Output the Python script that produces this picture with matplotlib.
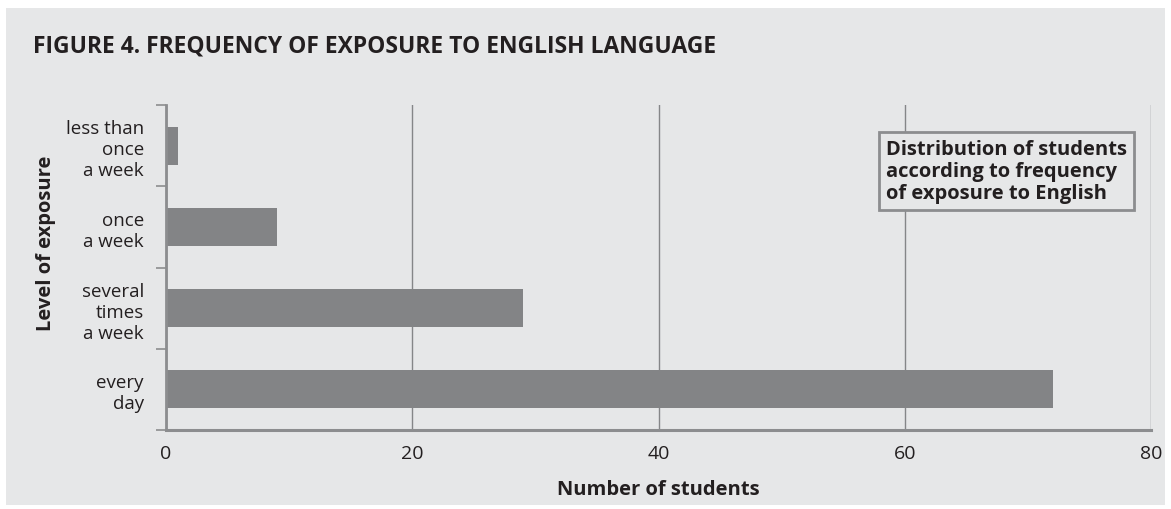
import matplotlib.pyplot as plt
import matplotlib.patches as patches

# data
categories = ["every\nday", "several\ntimes\na week", "once\na week", "less than\nonce\na week"]
students = [72, 29, 9, 1]
x_ticks = [0, 20, 40, 60, 80]

bg = "#e6e7e8"
bar_col = "#838486"
axis_col = "#8c8d8f"
txt = "#231f20"

plt.rcParams['font.family'] = ['Open Sans', 'DejaVu Sans']

fig = plt.figure(figsize=(11.71, 5.10), dpi=100)
fig.patch.set_facecolor("white")
fig.patches.append(patches.Rectangle((6/1171, 4/510), 1159/1171, 497/510,
                                     transform=fig.transFigure, facecolor=bg,
                                     edgecolor="none", zorder=-1))

ax = fig.add_axes([166/1171, 1 - 431/510, (1151-166)/1171, (431-106)/510])
ax.set_facecolor(bg)

ypos = list(range(len(categories)))
ax.barh(ypos, students, height=0.47, color=bar_col, zorder=3)

ax.set_xlim(0, 80)
ax.set_ylim(-0.5, 3.5)
ax.set_xticks(x_ticks)
ax.set_xticklabels([str(v) for v in x_ticks], fontsize=14, color=txt)
ax.set_yticks(ypos)
ax.set_yticklabels(categories, fontsize=13.5, color=txt, ha="right",
                   linespacing=1.22)
ax.tick_params(axis="y", length=0, pad=16)
ax.tick_params(axis="x", length=0, pad=10)

# category boundary ticks on the y axis
ax.set_yticks([-0.5, 0.5, 1.5, 2.5, 3.5], minor=True)
ax.tick_params(axis="y", which="minor", length=7, width=1.2, color=axis_col, direction="out")
ax.set_xticks([0, 80], minor=True)
ax.tick_params(axis="x", which="minor", length=6, width=1.2, color=axis_col, direction="out")

ax.grid(axis="x", color="#858688", linewidth=1.0, zorder=0)
for s in ["top", "right"]:
    ax.spines[s].set_visible(False)
ax.spines["left"].set_color(axis_col)
ax.spines["left"].set_linewidth(2)
ax.spines["bottom"].set_color(axis_col)
ax.spines["bottom"].set_linewidth(2.2)
ax.spines["left"].set_zorder(4)
ax.spines["bottom"].set_zorder(4)

ax.set_xlabel("Number of students", fontsize=14.5, fontweight="bold", color=txt)
ax.xaxis.set_label_coords(0.5, -(490-431)/325, transform=ax.transAxes)
ax.xaxis.label.set_va("center")
ax.set_ylabel("Level of exposure", fontsize=14.5, fontweight="bold", color=txt)
ax.yaxis.set_label_coords(-(166-46)/985, (431-243)/325)
ax.yaxis.label.set_va("center")

fig.text(33/1171, 1 - 47/510, "FIGURE 4. FREQUENCY OF EXPOSURE TO ENGLISH LANGUAGE",
         fontsize=16.5, fontweight="bold", color=txt, va="center", ha="left")

ax.text(886/1171, 1 - 172/510,
        "Distribution of students\naccording to frequency\nof exposure to English",
        transform=fig.transFigure, fontsize=14.5, fontweight="bold", color=txt,
        va="center", ha="left", linespacing=1.15, zorder=5,
        bbox=dict(boxstyle="square,pad=0.35", facecolor=bg, edgecolor="#8c8d8f", linewidth=2))

fig.savefig("out.png", dpi=100, facecolor=fig.get_facecolor())
